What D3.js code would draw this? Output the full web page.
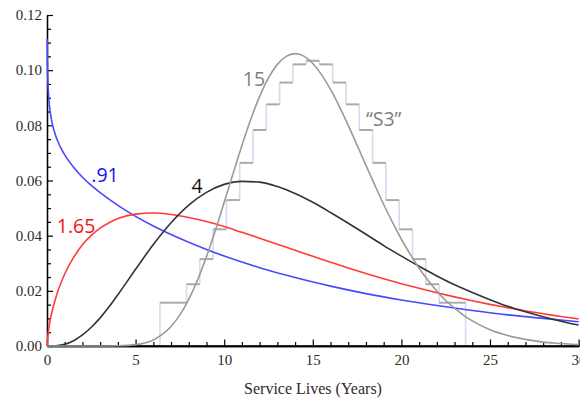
<!DOCTYPE html>
<html>
<head>
<meta charset="utf-8">
<script src="https://cdn.jsdelivr.net/npm/d3@7"></script>
<style>
  html, body { margin: 0; padding: 0; background: #fff; }
  svg { display: block; }
</style>
</head>
<body>
<svg id="chart" width="580" height="401"></svg>
<script>
// Tick labels
const xTicks = [0, 5, 10, 15, 20, 25, 30];
const yTicks = [0, 0.02, 0.04, 0.06, 0.08, 0.10, 0.12];

// Density curves over service life (years), one per shape parameter
const curveNames = [".91", "1.65", "4", "15"];

const shape091X = [0.01, 0.02, 0.05, 0.1, 0.2, 0.3, 0.5, 0.75, 1, 1.5, 2, 2.5, 3, 4, 5, 6, 7, 8, 9, 10, 12, 14, 16, 18, 20, 22, 24, 26, 28, 30];
const shape091Y = [0.1113, 0.1045, 0.0961, 0.0900, 0.0840, 0.0805, 0.0760, 0.0722, 0.0693, 0.0648, 0.0612, 0.0582, 0.0556, 0.0510, 0.0470, 0.0435, 0.0404, 0.0376, 0.0350, 0.0326, 0.0284, 0.0248, 0.0217, 0.0190, 0.0167, 0.0147, 0.0129, 0.0113, 0.0100, 0.0088];

const shape165X = [0, 0.1, 0.25, 0.5, 1, 1.5, 2, 2.5, 3, 3.5, 4, 5, 6, 7, 8, 9, 10, 11, 12, 13, 14, 15, 16, 17, 18, 19, 20, 21, 22, 23, 24, 25, 26, 27, 28, 29, 30];
const shape165Y = [0, 0.0064, 0.0115, 0.0176, 0.0261, 0.0321, 0.0367, 0.0401, 0.0427, 0.0447, 0.0462, 0.0478, 0.0482, 0.0477, 0.0466, 0.0451, 0.0433, 0.0412, 0.0391, 0.0369, 0.0347, 0.0325, 0.0304, 0.0283, 0.0263, 0.0244, 0.0226, 0.0209, 0.0193, 0.0178, 0.0164, 0.0151, 0.0139, 0.0127, 0.0117, 0.0107, 0.0098];

const shape4X = [0, 0.5, 1, 1.5, 2, 2.5, 3, 3.5, 4, 5, 6, 7, 8, 9, 10, 11, 12, 13, 14, 15, 16, 17, 18, 19, 20, 21, 22, 23, 24, 25, 26, 27, 28, 29, 30];
const shape4Y = [0, 0.0001, 0.0006, 0.0019, 0.0040, 0.0068, 0.0102, 0.0142, 0.0186, 0.0278, 0.0368, 0.0447, 0.0511, 0.0557, 0.0586, 0.0597, 0.0594, 0.0578, 0.0553, 0.0521, 0.0484, 0.0445, 0.0405, 0.0364, 0.0326, 0.0289, 0.0254, 0.0222, 0.0194, 0.0168, 0.0144, 0.0124, 0.0106, 0.0090, 0.0076];

const shape15X = [0, 3, 4, 5, 6, 6.5, 7, 7.5, 8, 8.5, 9, 9.5, 10, 10.5, 11, 11.5, 12, 12.5, 13, 13.5, 14, 14.5, 15, 15.5, 16, 16.5, 17, 17.5, 18, 18.5, 19, 19.5, 20, 20.5, 21, 21.5, 22, 22.5, 23, 23.5, 24, 25, 26, 27, 28, 29, 30];
const shape15Y = [0, 0, 0.0001, 0.0005, 0.0022, 0.0042, 0.0071, 0.0113, 0.0169, 0.0240, 0.0324, 0.0419, 0.0521, 0.0625, 0.0727, 0.0822, 0.0905, 0.0972, 0.1021, 0.1050, 0.1060, 0.1051, 0.1024, 0.0983, 0.0930, 0.0868, 0.0800, 0.0728, 0.0655, 0.0583, 0.0513, 0.0448, 0.0387, 0.0332, 0.0282, 0.0238, 0.0199, 0.0165, 0.0137, 0.0112, 0.0091, 0.0059, 0.0038, 0.0024, 0.0014, 0.0009, 0.0005];

// "S3" retirement frequency histogram: bin edges and bar heights
const s3Label = "\u201CS3\u201D";
const s3Edges = [6.375, 7.125, 7.875, 8.625, 9.375, 10.125, 10.875, 11.625, 12.375, 13.125, 13.875, 14.625, 15.375, 16.125, 16.875, 17.625, 18.375, 19.125, 19.875, 20.625, 21.375, 22.125, 22.875, 23.625];
const s3Values = [0.0157, 0.0157, 0.0224, 0.0315, 0.0423, 0.0529, 0.0664, 0.0783, 0.0876, 0.0955, 0.1021, 0.1034, 0.1021, 0.0955, 0.0876, 0.0783, 0.0664, 0.0529, 0.0423, 0.0315, 0.0224, 0.0157, 0.0157];

const axisTitle = "Service Lives (Years)";

const svg = d3.select("#chart");
const x = d3.scaleLinear().domain([0, 30]).range([47, 578.6]);
const y = d3.scaleLinear().domain([0, 0.12]).range([346, 15]);

// ---- histogram ----
const hist = svg.append("g");
// risers between neighbouring bars (including the outer edges down to zero)
s3Edges.forEach((e, i) => {
  const before = i === 0 ? 0 : s3Values[i - 1];
  const after = i === s3Values.length ? 0 : s3Values[i];
  hist.append("line")
    .attr("x1", x(e)).attr("x2", x(e))
    .attr("y1", y(before)).attr("y2", y(after))
    .attr("stroke", "#d9d9f0").attr("stroke-width", 1.6);
});
// bar tops
s3Values.forEach((v, i) => {
  hist.append("line")
    .attr("x1", x(s3Edges[i])).attr("x2", x(s3Edges[i + 1]))
    .attr("y1", y(v)).attr("y2", y(v))
    .attr("stroke", "#aaaaaa").attr("stroke-width", 2);
});

// ---- axes ----
const serif = "'Liberation Serif', 'Times New Roman', serif";
const textColor = "#2e2a28";

function styleAxis(g) {
  g.selectAll("path.domain").attr("stroke", "#000").attr("stroke-width", 1.3);
  g.selectAll(".tick line").attr("stroke", "#000").attr("stroke-width", 1.2);
  g.selectAll("text").attr("font-family", serif).attr("font-size", 15).attr("fill", textColor);
}

const yMinor = d3.range(0, 0.1201, 0.005).filter(v => Math.abs(Math.round(v / 0.02) * 0.02 - v) > 1e-6);
const xMinor = d3.range(0, 31, 1).filter(v => v % 5 !== 0);

svg.append("g").attr("transform", "translate(47,0)")
  .call(d3.axisLeft(y).tickValues(yMinor).tickSize(-4).tickSizeOuter(0).tickFormat(""))
  .call(styleAxis);
svg.append("g").attr("transform", "translate(47,0)")
  .call(d3.axisLeft(y).tickValues(yTicks).tickSize(-6).tickSizeOuter(0).tickPadding(5).tickFormat(d3.format(".2f")))
  .call(styleAxis);

svg.append("g").attr("transform", "translate(0,346)")
  .call(d3.axisBottom(x).tickValues(xMinor).tickSize(-4).tickSizeOuter(0).tickFormat(""))
  .call(styleAxis);
svg.append("g").attr("transform", "translate(0,346)")
  .call(d3.axisBottom(x).tickValues(xTicks).tickSize(-6.5).tickSizeOuter(0).tickPadding(8).tickFormat(d3.format("d")))
  .call(styleAxis);
// extend the bottom axis line to the edge
svg.append("line").attr("x1", 47).attr("x2", 580).attr("y1", 346).attr("y2", 346)
  .attr("stroke", "#000").attr("stroke-width", 1.3);

svg.append("text")
  .attr("x", 313).attr("y", 394)
  .attr("text-anchor", "middle")
  .attr("font-family", serif).attr("font-size", 16)
  .attr("fill", textColor)
  .text(axisTitle);

// ---- curves ----
const line = d3.line()
  .x(d => x(d[0]))
  .y(d => y(d[1]))
  .curve(d3.curveMonotoneX);

const series = [
  { xs: shape091X, ys: shape091Y, color: "#4848ff", width: 1.6 },
  { xs: shape165X, ys: shape165Y, color: "#ff3a3a", width: 1.6 },
  { xs: shape4X, ys: shape4Y, color: "#333333", width: 1.6 },
  { xs: shape15X, ys: shape15Y, color: "#9a9a9a", width: 1.6 }
];

series.forEach(s => {
  svg.append("path")
    .datum(s.xs.map((v, i) => [v, s.ys[i]]))
    .attr("fill", "none")
    .attr("stroke", s.color)
    .attr("stroke-width", s.width)
    .attr("d", line);
});

// ---- curve labels ----
const sans = "'Open Sans', 'Liberation Sans', sans-serif";
const labels = [
  { text: curveNames[0], px: 2.5, py: 0.0596, color: "#1414f0" },
  { text: curveNames[1], px: 0.55, py: 0.0410, color: "#f01414" },
  { text: curveNames[2], px: 8.15, py: 0.0555, color: "#111111" },
  { text: curveNames[3], px: 11.05, py: 0.0942, color: "#808080" },
  { text: s3Label, px: 18.0, py: 0.0799, color: "#808080" }
];
labels.forEach(l => {
  svg.append("text")
    .attr("x", x(l.px)).attr("y", y(l.py))
    .attr("font-family", sans).attr("font-size", 19.5)
    .attr("fill", l.color)
    .text(l.text);
});
</script>
</body>
</html>
